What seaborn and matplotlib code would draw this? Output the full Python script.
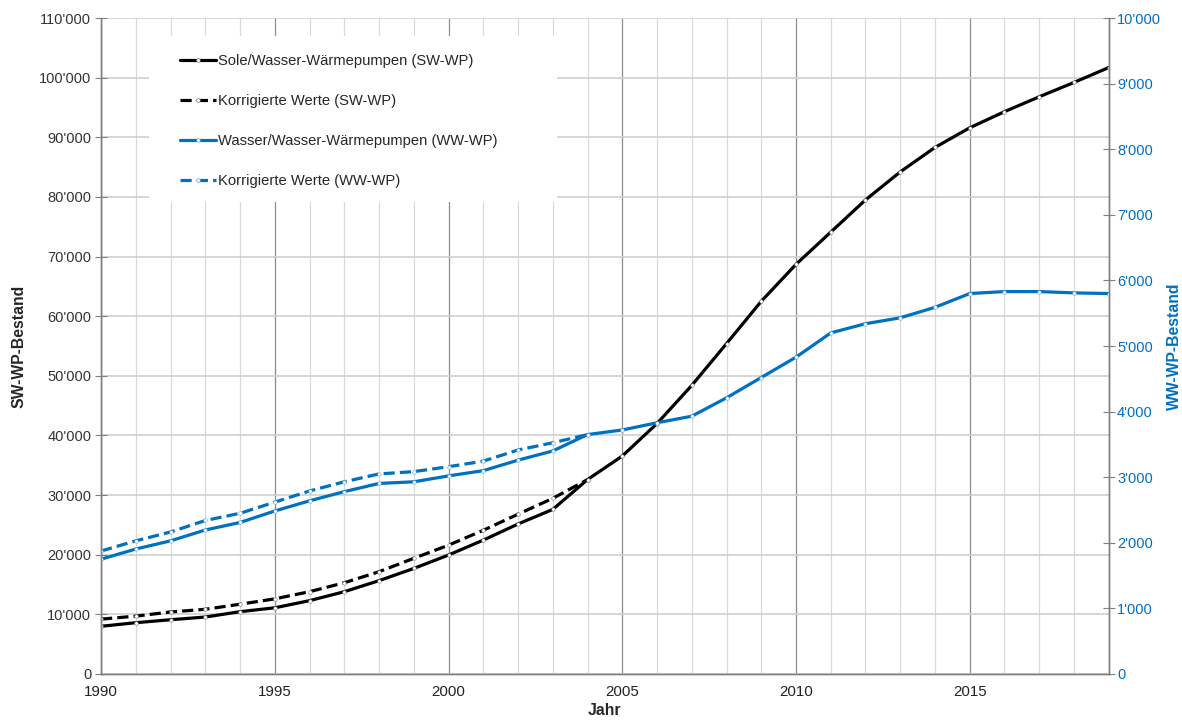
import matplotlib
matplotlib.use('Agg')
import matplotlib.pyplot as plt
import matplotlib.ticker as mticker
from matplotlib.patches import Rectangle
import seaborn as sns

# Data
years = list(range(1990, 2020))
sw_wp = [8000, 8600, 9100, 9550, 10450, 11100, 12300, 13800, 15650, 17700,
         19950, 22450, 25150, 27600, 32600, 36550, 42000, 48400, 55400, 62500,
         68700, 74100, 79500, 84200, 88300, 91600, 94300, 96800, 99200, 101700]
years_korr = list(range(1990, 2005))
sw_wp_korr = [9200, 9700, 10400, 10850, 11700, 12600, 13800, 15300, 17150, 19400,
              21600, 24100, 26800, 29450, 32600]
ww_wp = [1750, 1905, 2030, 2195, 2310, 2485, 2640, 2780, 2905, 2930,
         3020, 3100, 3260, 3400, 3650, 3720, 3830, 3930, 4210, 4520,
         4830, 5200, 5340, 5430, 5590, 5800, 5830, 5830, 5810, 5800]
ww_wp_korr = [1875, 2030, 2165, 2340, 2450, 2620, 2790, 2930, 3050, 3085,
              3160, 3245, 3415, 3525, 3650]

labels = ['Sole/Wasser-Wärmepumpen (SW-WP)', 'Korrigierte Werte (SW-WP)',
          'Wasser/Wasser-Wärmepumpen (WW-WP)', 'Korrigierte Werte (WW-WP)']

BLUE = '#0070C0'

sns.set_style('white')
plt.rcParams['font.family'] = ['Liberation Sans', 'DejaVu Sans']

fig, ax = plt.subplots(figsize=(11.82, 7.22), dpi=100)
fig.subplots_adjust(left=0.0855, right=0.938, top=0.975, bottom=0.0665)
ax2 = ax.twinx()

dash = (0, (3.5, 1.6))
mk = dict(marker='o', markersize=2.6, markerfacecolor='white', markeredgewidth=0.4)

sns.lineplot(x=years, y=sw_wp, ax=ax, color='black', linewidth=2.3,
             markeredgecolor='#777777', label=labels[0], **mk)
sns.lineplot(x=years_korr, y=sw_wp_korr, ax=ax, color='black', linewidth=2.3,
             linestyle=dash, markeredgecolor='#777777', label=labels[1], **mk)
sns.lineplot(x=years, y=ww_wp, ax=ax2, color=BLUE, linewidth=2.3,
             markeredgecolor='#5aa0d8', label=labels[2], **mk)
sns.lineplot(x=years_korr, y=ww_wp_korr, ax=ax2, color=BLUE, linewidth=2.3,
             linestyle=dash, markeredgecolor='#5aa0d8', label=labels[3], **mk)

for a in (ax, ax2):
    if a.get_legend() is not None:
        a.get_legend().remove()

fmt = mticker.FuncFormatter(lambda v, p: f"{int(v):,}".replace(',', "'"))

ax.set_xlim(1990, 2019)
ax.set_ylim(0, 110000)
ax.set_xticks(range(1990, 2016, 5))
ax.set_xticks(range(1990, 2020), minor=True)
ax.set_yticks(range(0, 110001, 10000))
ax.yaxis.set_major_formatter(fmt)
ax2.set_ylim(0, 10000)
ax2.set_yticks(range(0, 10001, 1000))
ax2.yaxis.set_major_formatter(fmt)

ax.set_axisbelow(True)
ax.grid(which='major', axis='x', color='#8c8c8c', linewidth=0.9)
ax.grid(which='minor', axis='x', color='#d9d9d9', linewidth=0.9)
ax.grid(which='major', axis='y', color='#d0d0d0', linewidth=1.2)

ax.tick_params(axis='x', which='major', direction='out', length=4, color='#808080',
               labelsize=10.8, labelcolor='#222222', pad=4)
ax.tick_params(axis='x', which='minor', length=0)
ax.tick_params(axis='y', direction='inout', length=8, color='#808080',
               labelsize=10.5, labelcolor='#333333', pad=3, left=True)
ax2.tick_params(axis='y', direction='inout', length=8, color='#808080',
                labelsize=10.5, labelcolor=BLUE, pad=2, right=True)

for a in (ax, ax2):
    for side in ('left', 'right', 'bottom'):
        a.spines[side].set_color('#808080')
        a.spines[side].set_linewidth(1.0)
    a.spines['top'].set_visible(False)

ax.set_xlabel('Jahr', fontsize=11.3, fontweight='bold', labelpad=3)
ax.set_ylabel('SW-WP-Bestand', fontsize=11.3, fontweight='bold', labelpad=9)
ax2.set_ylabel('WW-WP-Bestand', fontsize=11.3, fontweight='bold', color=BLUE, labelpad=4)

# white area behind the legend
ax.add_patch(Rectangle((0.048, 0.72), 0.404, 0.252, transform=ax.transAxes,
                       facecolor='white', edgecolor='none', zorder=1))

h1, l1 = ax.get_legend_handles_labels()
h2, l2 = ax2.get_legend_handles_labels()
leg = ax2.legend(h1 + h2, l1 + l2, loc='upper left', bbox_to_anchor=(0.072, 0.954),
                 frameon=False, fontsize=10.6, labelspacing=1.76, handlelength=2.5,
                 handletextpad=0.1, borderaxespad=0)

fig.savefig('out.png', dpi=100)
